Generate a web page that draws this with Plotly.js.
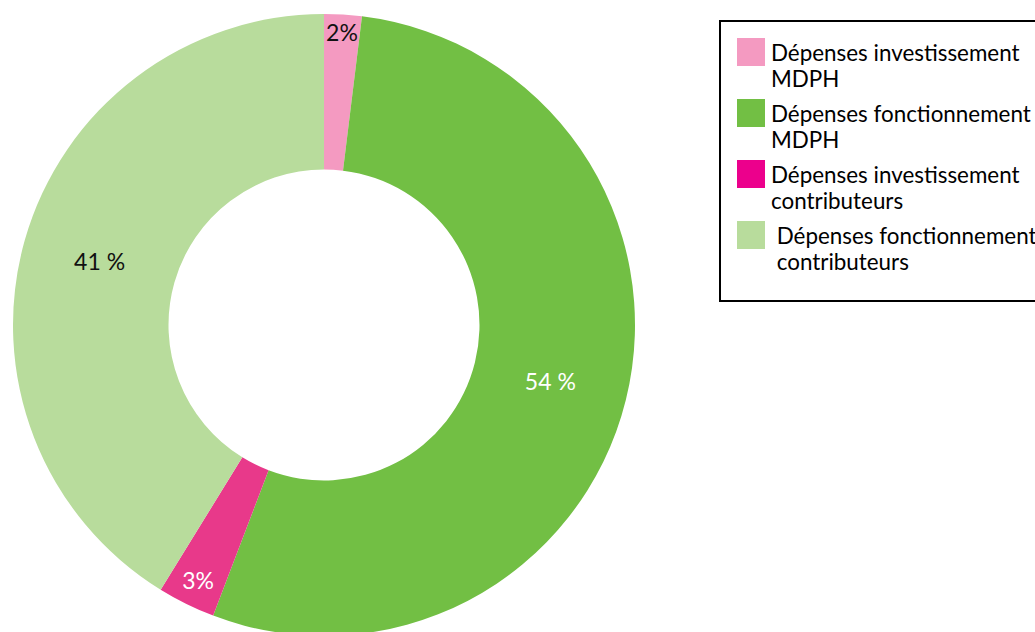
<!DOCTYPE html>
<html>
<head>
<meta charset="utf-8">
<script src="https://cdn.plot.ly/plotly-3.0.1.min.js"></script>
<style>
html,body{margin:0;padding:0;overflow:hidden;background:#fff;}
#chart{width:1035px;height:650px;}
</style>
</head>
<body>
<div id="chart"></div>
<script>
// Data
const categories = [
  "Dépenses investissement MDPH",
  "Dépenses fonctionnement MDPH",
  "Dépenses investissement contributeurs",
  "Dépenses fonctionnement contributeurs"
];
const legendLine1 = [
  "Dépenses investissement",
  "Dépenses fonctionnement",
  "Dépenses investissement",
  " Dépenses fonctionnement"
];
const legendLine2 = [
  "MDPH",
  "MDPH",
  "contributeurs",
  " contributeurs"
];
const values = [1.95, 53.85, 3.0, 41.2];
const valueLabels = ["2%", "54 %", "3%", "41 %"];
const sliceColors = ["#f49ac1", "#72bf44", "#e8398a", "#b8dc9c"];
const legendColors = ["#f49ac1", "#72bf44", "#ec008c", "#b8dc9c"];
const labelColors = ["#111111", "#ffffff", "#ffffff", "#111111"];

const W = 1035, H = 650;
const FONT = "Lato, 'Open Sans', sans-serif";
const px = x => x / W;
const py = y => 1 - y / H;

const trace = {
  type: "pie",
  labels: categories,
  values: values,
  text: valueLabels,
  textinfo: "text",
  textposition: "inside",
  insidetextorientation: "horizontal",
  textfont: {family: FONT, size: 23, color: labelColors},
  marker: {colors: sliceColors, line: {width: 0}},
  hole: 0.5,
  sort: false,
  direction: "clockwise",
  rotation: 0,
  showlegend: false,
  domain: {x: [px(13), px(635)], y: [py(636), py(14)]}
};

const shapes = [{
  type: "rect", xref: "paper", yref: "paper",
  x0: px(720), x1: px(1045), y0: py(301), y1: py(21),
  line: {color: "#000", width: 2}, fillcolor: "rgba(0,0,0,0)"
}];
const annotations = [];
const rowStep = 61;
legendLine1.forEach((lab, i) => {
  const top = 38 + i * rowStep;
  shapes.push({
    type: "rect", xref: "paper", yref: "paper",
    x0: px(737), x1: px(765), y0: py(top + 28), y1: py(top),
    line: {width: 0}, fillcolor: legendColors[i]
  });
  [lab, legendLine2[i]].forEach((t, k) => {
    const baseline = 62 + i * rowStep + k * 26.3;
    annotations.push({
      xref: "paper", yref: "paper",
      x: px(769), y: py(baseline - 25),
      xanchor: "left", yanchor: "top", align: "left",
      showarrow: false, text: t,
      font: {family: FONT, size: 22.4, color: "#000"}
    });
  });
});

const layout = {
  width: W, height: H,
  margin: {l: 0, r: 0, t: 0, b: 0},
  paper_bgcolor: "#fff",
  plot_bgcolor: "#fff",
  showlegend: false,
  uniformtext: {mode: "show", minsize: 23},
  shapes: shapes,
  annotations: annotations
};

Plotly.newPlot("chart", [trace], layout, {displayModeBar: false, staticPlot: true});
</script>
</body>
</html>
